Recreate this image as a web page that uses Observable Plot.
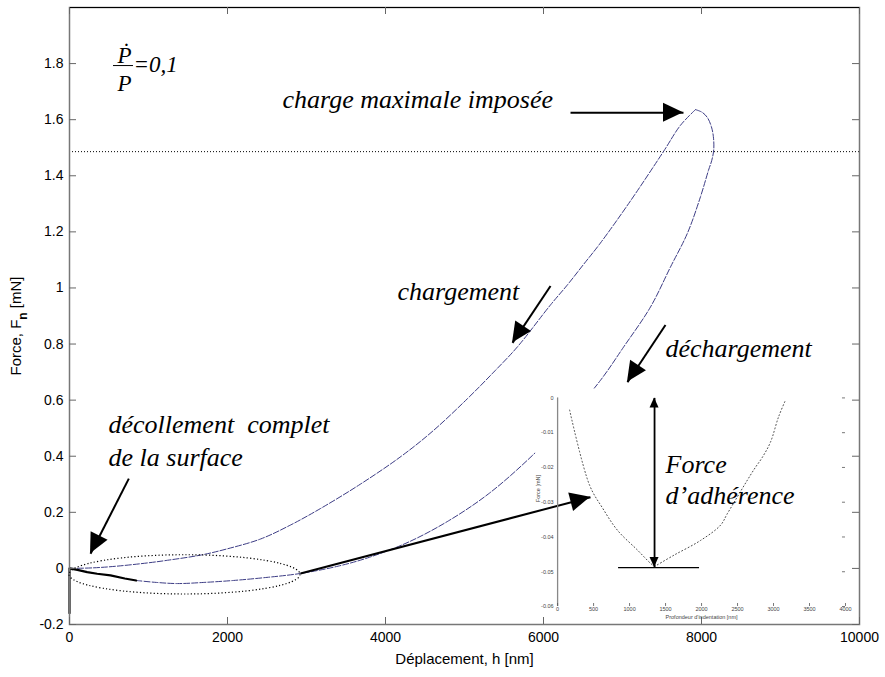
<!DOCTYPE html>
<html><head><meta charset="utf-8">
<script src="https://cdn.jsdelivr.net/npm/d3@7"></script>
<script src="https://cdn.jsdelivr.net/npm/@observablehq/plot@0.6"></script>
<style>
body{margin:0;background:#fff;}
#chart{width:885px;height:677px;}
</style></head><body><div id="chart"></div>
<script>
// ---------------- data ----------------
const xTicks = [0, 2000, 4000, 6000, 8000, 10000];
const yTicks = [-0.2, 0, 0.2, 0.4, 0.6, 0.8, 1, 1.2, 1.4, 1.6, 1.8];

// loading curve (chargement)
const loadDepth = [0, 300, 600, 1000, 1240, 1670, 2000, 2420, 2800, 3180, 3680, 4200, 4600, 5040, 5370, 5670, 6090, 6300, 6510, 6720, 7100, 7520, 7734, 7924];
const loadForce = [0, 0.002, 0.008, 0.02, 0.029, 0.048, 0.07, 0.105, 0.155, 0.214, 0.30, 0.40, 0.49, 0.606, 0.70, 0.79, 0.94, 1.01, 1.085, 1.16, 1.31, 1.487, 1.58, 1.636];

// unloading curve (déchargement)
const unloadDepth = [7924, 8010, 8076, 8125, 8150, 8155, 8130, 8089, 7987, 7823, 7608, 7354, 7013, 6722, 6300, 5797, 5300, 4800, 4300, 3800, 3400, 2924, 2500, 2076, 1700, 1367, 1100, 844];
const unloadForce = [1.636, 1.626, 1.607, 1.575, 1.54, 1.493, 1.455, 1.42, 1.325, 1.196, 1.075, 0.932, 0.789, 0.671, 0.53, 0.386, 0.265, 0.17, 0.095, 0.04, 0.008, -0.018, -0.032, -0.043, -0.05, -0.054, -0.05, -0.043];

// end of unloading: complete detachment (solid black)
const detachDepth = [844, 700, 519, 350, 224, 100, 0, 0];
const detachForce = [-0.043, -0.036, -0.025, -0.019, -0.013, -0.005, 0, -0.16];

const imposedLevel = 1.486;   // dotted horizontal line

// inset (zoom on adhesion)
const insetXTicks = [0, 500, 1000, 1500, 2000, 2500, 3000, 3500, 4000];
const insetYTicks = [0, -0.01, -0.02, -0.03, -0.04, -0.05, -0.06];
const insetLeftDepth = [167, 444, 625, 833, 1111, 1292, 1347];
const insetLeftForce = [-0.0035, -0.0251, -0.0317, -0.0381, -0.0438, -0.0476, -0.0485];
const insetRightDepth = [1347, 1611, 1986, 2264, 2361, 2722, 2847, 2958, 3069, 3167];
const insetRightForce = [-0.0485, -0.0453, -0.041, -0.0366, -0.0332, -0.0208, -0.017, -0.0127, -0.0055, -0.0006];
const adhesionDepth = 1347;
const adhesionForce = -0.0488;
const adhesionBase = [847, 1972];

// annotations (data coordinates)
const mainLabels = [
  {x: 2696, y: 1.671, text: "charge maximale imposée"},
  {x: 4152, y: 0.986, text: "chargement"},
  {x: 7544, y: 0.782, text: "déchargement"},
  {x: 494, y: 0.511, text: "décollement  complet"},
  {x: 494, y: 0.396, text: "de la surface"}
];
const arrows = [
  {x1: 6342, y1: 1.625, x2: 7772, y2: 1.625},
  {x1: 6089, y1: 1.007, x2: 5608, y2: 0.804},
  {x1: 7544, y1: 0.868, x2: 7063, y2: 0.664},
  {x1: 751, y1: 0.320, x2: 266, y2: 0.052},
  {x1: 2924, y1: -0.018, x2: 6595, y2: 0.254}
];
const ellipseZone = {cx: 1462, cy: -0.023, rx: 1462, ry: 0.07};
const insetBox = {x1: 5900, x2: 10000, y1: -0.2, y2: 0.64};
const formula = {x: 696, xBar1: 557, xBar2: 810, yTop: 1.830, yBottom: 1.730, yBar: 1.793, yRest: 1.798};

// ---------------- chart ----------------
const sans = "'Liberation Sans', Arial, Helvetica, sans-serif";
const serif = "'Liberation Serif', 'Times New Roman', serif";
const curveColor = "#3d3d85";
const W = 885, H = 677, mL = 69, mR = 26, mT = 7, mB = 53;
const fw = W - mL - mR, fh = H - mT - mB;

const zip = (xs, ys) => xs.map((x, i) => ({x, y: ys[i]}));
const load = zip(loadDepth, loadForce);
const unload = zip(unloadDepth, unloadForce);
const detach = zip(detachDepth, detachForce);
const fmtY = d => String(Math.round(d * 10) / 10);
const annot = {fontFamily: serif, fontStyle: "italic", fontSize: 26, fill: "black"};

const main = Plot.plot({
  width: W, height: H, marginLeft: mL, marginRight: mR, marginTop: mT, marginBottom: mB,
  style: {fontFamily: sans, fontSize: "14px", background: "white", color: "black"},
  x: {domain: [0, 10000], ticks: xTicks, tickSize: 0, tickPadding: 8, tickFormat: d => String(d), label: null},
  y: {domain: [-0.2, 2.0], ticks: yTicks, tickSize: 0, tickPadding: 6, tickFormat: fmtY, label: null},
  marks: [
    Plot.ruleY([imposedLevel], {stroke: "black", strokeWidth: 1, strokeDasharray: "1,2"}),
    Plot.line(load, {x: "x", y: "y", curve: "catmull-rom", stroke: curveColor, strokeWidth: 1, strokeDasharray: "6,2"}),
    Plot.line(unload, {x: "x", y: "y", curve: "catmull-rom", stroke: curveColor, strokeWidth: 1, strokeDasharray: "6,2"}),
    Plot.line(detach, {x: "x", y: "y", stroke: "black", strokeWidth: 2.2}),
    Plot.rect([insetBox], {x1: "x1", x2: "x2", y1: "y1", y2: "y2", fill: "white"}),
    Plot.frame({stroke: "#777", strokeWidth: 1.5}),
    Plot.ruleY([2.0], {stroke: "black", strokeWidth: 1.2}),
    Plot.ruleX(xTicks, {insetTop: fh - 7, stroke: "#666"}),
    Plot.ruleX(xTicks, {insetBottom: fh - 7, stroke: "#666"}),
    Plot.ruleY(yTicks, {insetRight: fw - 7, stroke: "#666"}),
    Plot.ruleY(yTicks, {insetLeft: fw - 7, stroke: "#666"}),
    Plot.text(mainLabels, {x: "x", y: "y", text: "text", textAnchor: "start", ...annot}),
    Plot.text(["Ṗ"], {x: () => formula.x, y: () => formula.yTop, fontFamily: serif, fontStyle: "italic", fontSize: 23}),
    Plot.text(["P"], {x: () => formula.x, y: () => formula.yBottom, fontFamily: serif, fontStyle: "italic", fontSize: 23}),
    Plot.text(["=0,1"], {x: () => formula.xBar2, y: () => formula.yRest, textAnchor: "start", fontFamily: serif, fontStyle: "italic", fontSize: 23}),
    Plot.ruleY([formula.yBar], {x1: formula.xBar1, x2: formula.xBar2, stroke: "black", strokeWidth: 1}),
    Plot.text(["Déplacement, h [nm]"], {frameAnchor: "bottom", dy: 39, fontSize: 15}),
    Plot.link(arrows, {x1: "x1", y1: "y1", x2: "x2", y2: "y2", stroke: "black", strokeWidth: 2})
  ]
});
document.getElementById("chart").appendChild(main);
d3.select(main).selectAll("text").filter(function () { return this.getAttribute("font-style") === "italic" && this.getAttribute("font-size") === "26"; }).style("letter-spacing", "1px");

const sx = main.scale("x"), sy = main.scale("y");
const fx = d3.scaleLinear(sx.domain, sx.range), fy = d3.scaleLinear(sy.domain, sy.range);

// ---------------- inset ----------------
const iLeft = fx(insetBox.x1), iRight = fx(insetBox.x2), iTop = fy(insetBox.y2), iBottom = fy(insetBox.y1);
const iw = iRight - iLeft, ih = iBottom - iTop;
const imL = 22, imR = 14, imT = 9, imB = 18;
const ifw = iw - imL - imR, ifh = ih - imT - imB;
const inset = Plot.plot({
  width: iw, height: ih, marginLeft: imL, marginRight: imR, marginTop: imT, marginBottom: imB,
  style: {fontFamily: sans, fontSize: "5.5px", color: "#444", background: "transparent"},
  x: {domain: [0, 4000], ticks: insetXTicks, tickSize: 0, tickPadding: 1, tickFormat: d => String(d), label: null},
  y: {domain: [-0.06, 0], ticks: insetYTicks, tickSize: 0, tickPadding: 4, tickFormat: d => d === 0 ? "0" : d.toFixed(2), label: null},
  marks: [
    Plot.ruleX([0], {stroke: "#888", strokeWidth: 1.3}),
    Plot.ruleY(insetYTicks, {insetLeft: ifw - 3, stroke: "#555", strokeWidth: 0.8}),
    Plot.ruleX(insetXTicks, {insetTop: ifh - 3, stroke: "#555", strokeWidth: 0.8}),
    Plot.line(zip(insetLeftDepth, insetLeftForce), {x: "x", y: "y", curve: "catmull-rom", stroke: "#333", strokeWidth: 0.9, strokeDasharray: "1,2.5"}),
    Plot.line(zip(insetRightDepth, insetRightForce), {x: "x", y: "y", curve: "catmull-rom", stroke: "#333", strokeWidth: 0.9, strokeDasharray: "1,2.5"}),
    Plot.ruleY([adhesionForce], {x1: adhesionBase[0], x2: adhesionBase[1], stroke: "black", strokeWidth: 1.3}),
    Plot.link([{x1: adhesionDepth, y1: 0, x2: adhesionDepth, y2: adhesionForce}], {x1: "x1", y1: "y1", x2: "x2", y2: "y2", stroke: "black", strokeWidth: 1.8}),
    Plot.text(["Force"], {x: () => 1500, y: () => -0.0193, textAnchor: "start", ...annot}),
    Plot.text(["d’adhérence"], {x: () => 1500, y: () => -0.028, textAnchor: "start", ...annot}),
    Plot.text(["Profondeur d'indentation [nm]"], {frameAnchor: "bottom", dy: 12.5, fontSize: 5.5}),
    Plot.text(["Force [mN]"], {frameAnchor: "left", dx: -19, rotate: -90, fontSize: 5.5})
  ]
});
d3.select(inset).selectAll("text").filter(function () { return this.getAttribute("font-style") === "italic"; }).style("letter-spacing", "1px");
inset.setAttribute("x", iLeft);
inset.setAttribute("y", iTop);
inset.style.width = iw + "px";
inset.style.height = ih + "px";
inset.style.maxWidth = "none";
inset.style.overflow = "visible";
inset.style.background = "none";
main.appendChild(inset);

// ---------------- arrowheads, ellipse, y label ----------------
function head(sel, x1, y1, x2, y2, len, half) {
  const a = Math.atan2(y2 - y1, x2 - x1);
  const bx = x2 - len * Math.cos(a), by = y2 - len * Math.sin(a);
  const px = -Math.sin(a) * half, py = Math.cos(a) * half;
  sel.append("polygon")
    .attr("points", `${x2},${y2} ${bx + px},${by + py} ${bx - px},${by - py}`)
    .attr("fill", "black");
}
const svg = d3.select(main);
const g = svg.append("g");
arrows.forEach(a => head(g, fx(a.x1), fy(a.y1), fx(a.x2), fy(a.y2), 20, 9.5));

g.append("ellipse")
  .attr("cx", fx(ellipseZone.cx)).attr("cy", fy(ellipseZone.cy))
  .attr("rx", fx(ellipseZone.rx) - fx(0)).attr("ry", fy(0) - fy(ellipseZone.ry))
  .attr("fill", "none").attr("stroke", "black").attr("stroke-width", 1.2).attr("stroke-dasharray", "1.2,2.2");

const isx = inset.scale("x"), isy = inset.scale("y");
const ifx = d3.scaleLinear(isx.domain, isx.range), ify = d3.scaleLinear(isy.domain, isy.range);
const ig = d3.select(inset).append("g");
head(ig, ifx(adhesionDepth), ify(adhesionForce), ifx(adhesionDepth), ify(0), 10, 4.5);
head(ig, ifx(adhesionDepth), ify(0), ifx(adhesionDepth), ify(adhesionForce), 10, 4.5);

const yl = svg.append("text")
  .attr("transform", `translate(21,326) rotate(-90)`)
  .attr("text-anchor", "middle").attr("font-size", 15).attr("font-family", sans).attr("fill", "black");
yl.append("tspan").text("Force, F");
yl.append("tspan").attr("dy", 6).attr("font-weight", "bold").attr("font-size", 12).text("n");
yl.append("tspan").attr("dy", -6).text(" [mN]");
</script>
</body></html>
